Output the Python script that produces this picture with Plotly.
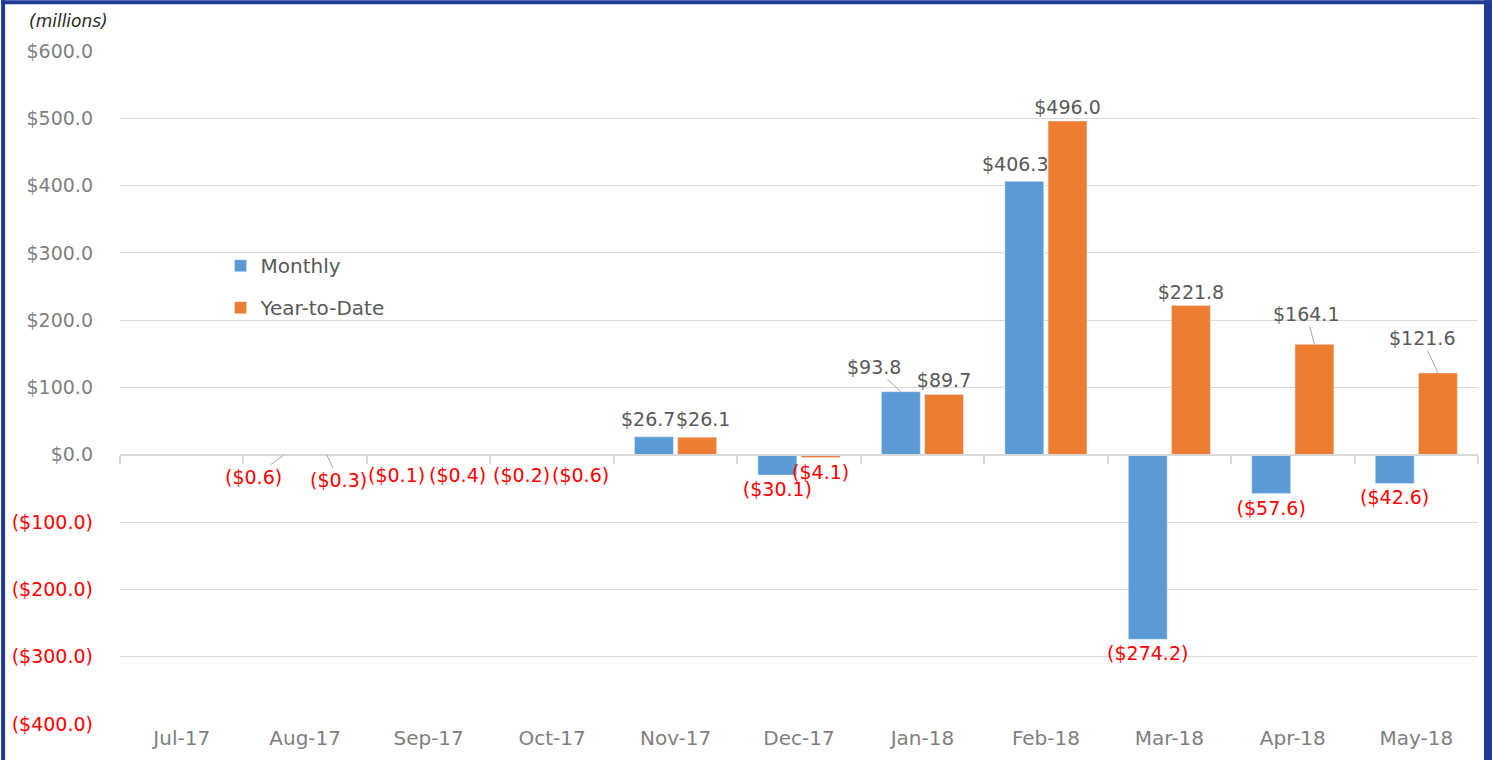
import plotly.graph_objects as go

months = ["Jul-17", "Aug-17", "Sep-17", "Oct-17", "Nov-17", "Dec-17",
          "Jan-18", "Feb-18", "Mar-18", "Apr-18", "May-18"]
monthly = [0.3, -0.6, -0.1, -0.2, 26.7, -30.1, 93.8, 406.3, -274.2, -57.6, -42.6]
ytd = [0.3, -0.3, -0.4, -0.6, 26.1, -4.1, 89.7, 496.0, 221.8, 164.1, 121.6]
show_label = [False, True, True, True, True, True, True, True, True, True, True]
ytick_vals = [600, 500, 400, 300, 200, 100, 0, -100, -200, -300, -400]

# hand-placed labels (Excel style): (series, month) -> (dx px, dy px, leader line)
label_moves = {
    ("m", "Aug-17"): (-30, 22, True),
    ("y", "Aug-17"): (12, 25, True),
    ("m", "Sep-17"): (-11, 20, False),
    ("y", "Sep-17"): (7, 20, False),
    ("m", "Oct-17"): (-9, 20, False),
    ("y", "Oct-17"): (7, 20, False),
    ("m", "Nov-17"): (-6, -18, False),
    ("y", "Nov-17"): (6, -18, False),
    ("m", "Jan-18"): (-27, -25, True),
    ("m", "Feb-18"): (-9, -17, False),
    ("y", "Apr-18"): (-8, -30, True),
    ("y", "May-18"): (-16, -35, True),
}

BLUE = "#5B9BD5"
ORANGE = "#ED7D31"
GRAY = "#595959"
TICKGRAY = "#7F7F7F"
RED = "#FF0000"
FONT = "DejaVu Sans"
FS = 19
FSX = 20

W, H = 1492, 762
ML, MR, MT, MB = 119, 14, 51, 36
pw, ph = W - ML - MR, H - MT - MB
BARGAP = 0.30
band = pw / len(months)
bar_off = (1 - BARGAP) / 4 * band


def fmt(v):
    return f"${v:,.1f}" if v >= 0 else f"(${-v:,.1f})"


def labels(vals, key):
    return [fmt(v) if s and (key, m) not in label_moves else ""
            for v, s, m in zip(vals, show_label, months)]


def colors(vals):
    return [GRAY if v >= 0 else RED for v in vals]


fig = go.Figure()
fig.add_trace(go.Bar(
    x=months, y=monthly, name="Monthly", marker_color=BLUE,
    text=labels(monthly, "m"), textposition="outside", constraintext="none",
    textfont=dict(family=FONT, size=FS, color=colors(monthly)),
    cliponaxis=False, legendgroup="a",
))
fig.add_trace(go.Bar(
    x=months, y=ytd, name="Year-to-Date", marker_color=ORANGE,
    text=labels(ytd, "y"), textposition="outside", constraintext="none",
    textfont=dict(family=FONT, size=FS, color=colors(ytd)),
    cliponaxis=False, legendgroup="b",
))

annotations = []
for key, vals, sign in (("m", monthly, -1), ("y", ytd, 1)):
    for m, v in zip(months, vals):
        if (key, m) not in label_moves:
            continue
        dx, dy, leader = label_moves[(key, m)]
        annotations.append(dict(
            x=m, y=v, xref="x", yref="y", xshift=sign * bar_off,
            text=fmt(v), showarrow=True, ax=dx, ay=dy, axref="pixel", ayref="pixel",
            arrowhead=0, arrowwidth=1, standoff=0,
            arrowcolor="#A6A6A6" if leader else "rgba(0,0,0,0)",
            font=dict(family=FONT, size=FS, color=GRAY if v >= 0 else RED),
        ))

annotations.append(dict(text="<i>(millions)</i>", xref="paper", yref="paper",
                        x=(26 - ML) / pw, y=1 + (MT - 21) / ph, xanchor="left",
                        yanchor="middle", showarrow=False,
                        font=dict(family=FONT, size=17, color="#262626")))

ticktext = [fmt(v) if v >= 0 else f"<span style='color:{RED}'>{fmt(v)}</span>"
            for v in ytick_vals]

x0p, x1p = -ML / pw, 1 + MR / pw
y0p, y1p = -MB / ph, 1 + MT / ph
NAVY = "#1F3A93"

ymin, ymax = -400, 600
zero_pos = (0 - ymin) / (ymax - ymin)

fig.update_layout(
    width=W, height=H,
    margin=dict(l=ML, r=MR, t=MT, b=MB),
    paper_bgcolor="white", plot_bgcolor="white",
    barmode="group", bargap=BARGAP, bargroupgap=0.1,
    font=dict(family=FONT, color=GRAY),
    showlegend=True,
    legend=dict(x=0.074, y=0.71, xanchor="left", yanchor="top",
                font=dict(family=FONT, size=FSX, color=GRAY),
                tracegroupgap=13, bgcolor="rgba(0,0,0,0)"),
    yaxis=dict(range=[ymin, ymax], tickvals=ytick_vals, ticktext=ticktext,
               showgrid=True, gridcolor="#D9D9D9", gridwidth=1,
               zeroline=False, tickfont=dict(family=FONT, size=FS, color=TICKGRAY),
               ticklabelstandoff=26, showline=False),
    xaxis=dict(showgrid=False, zeroline=False, showline=False, ticks="",
               tickfont=dict(family=FONT, size=FSX, color=TICKGRAY)),
    xaxis2=dict(overlaying="x", matches="x", anchor="free", position=zero_pos,
                side="bottom", showline=True, linecolor="#D9D9D9", linewidth=2,
                ticks="outside", ticklen=8, tickcolor="#D9D9D9", tickwidth=2,
                tickson="boundaries", showticklabels=False, showgrid=False,
                zeroline=False),
    annotations=annotations,
    shapes=[
        dict(type="rect", xref="paper", yref="paper", x0=x0p, x1=x1p,
             y0=y1p - 4 / ph, y1=y1p, fillcolor=NAVY, line_width=0),
        dict(type="rect", xref="paper", yref="paper", x0=x0p, x1=x0p + 4 / pw,
             y0=y0p, y1=y1p, fillcolor=NAVY, line_width=0),
        dict(type="rect", xref="paper", yref="paper", x0=x1p - 8 / pw, x1=x1p,
             y0=y0p, y1=y1p, fillcolor=NAVY, line_width=0),
    ],
)
# invisible trace to activate xaxis2 (zero line with boundary ticks)
fig.add_trace(go.Bar(x=months, y=[None] * len(months), xaxis="x2",
                     showlegend=False, hoverinfo="skip"))

fig.write_html("out.html", config={"displayModeBar": False},
               post_script="document.body.style.margin='0';document.body.style.overflow='hidden';")
